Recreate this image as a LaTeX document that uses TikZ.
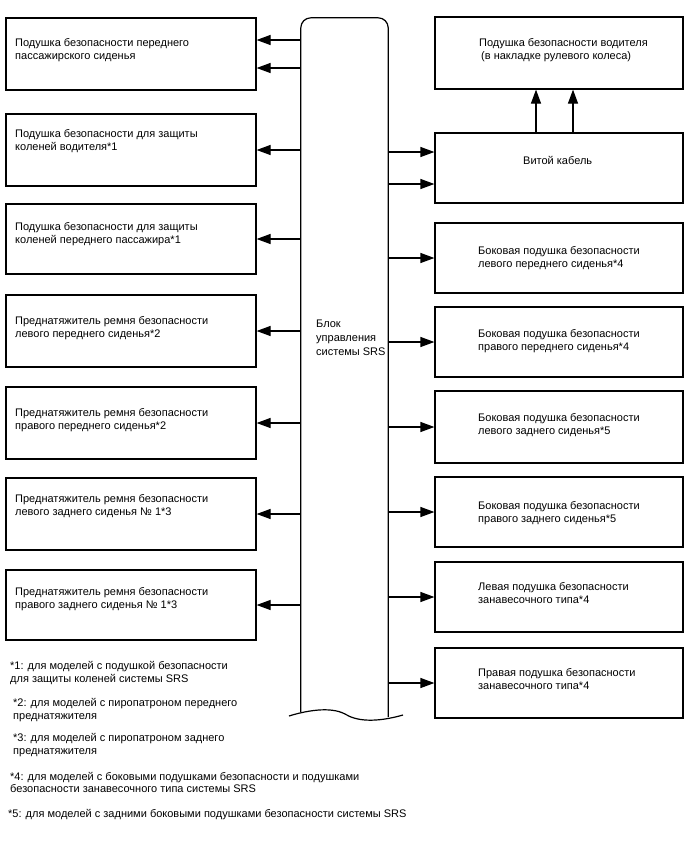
\documentclass[tikz,border=0pt]{standalone}
\usepackage{fontspec}
\setmainfont{Liberation Sans}
\usetikzlibrary{arrows.meta}
\begin{document}
\begin{tikzpicture}[x=1pt,y=-1pt,
  box/.style={draw, line width=1.2pt, inner sep=0, minimum width=250pt},
  rbox/.style={draw, line width=1.2pt, inner sep=0, minimum width=248pt},
  txt/.style={anchor=base west, align=left, inner sep=0, font=\fontsize{11}{13}\selectfont},
  arr/.style={line width=1.2pt, -{Triangle[length=14pt,width=10pt]}},
  ln/.style={line width=1.2pt}]
\useasboundingbox (0,0) rectangle (688,852);
% left boxes
\node[box, minimum height=72pt] (L1) at (131,54) {};
\node[box, minimum height=72pt] (L2) at (131,150) {};
\node[box, minimum height=70pt] (L3) at (131,239) {};
\node[box, minimum height=72pt] (L4) at (131,331) {};
\node[box, minimum height=72pt] (L5) at (131,423) {};
\node[box, minimum height=72pt] (L6) at (131,514) {};
\node[box, minimum height=70pt] (L7) at (131,605) {};
\node[txt] (L1t) at (15,59) {Подушка безопасности переднего\\пассажирского сиденья};
\node[txt] (L2t) at (15,150) {Подушка безопасности для защиты\\коленей водителя*1};
\node[txt] (L3t) at (15,243) {Подушка безопасности для защиты\\коленей переднего пассажира*1};
\node[txt] (L4t) at (15,337) {Преднатяжитель ремня безопасности\\левого переднего сиденья*2};
\node[txt] (L5t) at (15,429) {Преднатяжитель ремня безопасности\\правого переднего сиденья*2};
\node[txt] (L6t) at (15,515) {Преднатяжитель ремня безопасности\\левого заднего сиденья № 1*3};
\node[txt] (L7t) at (15,608) {Преднатяжитель ремня безопасности\\правого заднего сиденья № 1*3};
% right boxes
\node[rbox, minimum height=72pt] (R1) at (559,53) {};
\node[rbox, minimum height=70pt] (R2) at (559,168) {};
\node[rbox, minimum height=70pt] (R3) at (559,258) {};
\node[rbox, minimum height=70pt] (R4) at (559,342) {};
\node[rbox, minimum height=72pt] (R5) at (559,427) {};
\node[rbox, minimum height=70pt] (R6) at (559,512) {};
\node[rbox, minimum height=70pt] (R7) at (559,597) {};
\node[rbox, minimum height=70pt] (R8) at (559,683) {};
\node[txt] (R1t) at (479,59) {Подушка безопасности водителя\\\hspace{2pt}(в накладке рулевого колеса)};
\node[txt] (R2t) at (523,164) {Витой кабель};
\node[txt] (R3t) at (478,267) {Боковая подушка безопасности\\левого переднего сиденья*4};
\node[txt] (R4t) at (478,350) {Боковая подушка безопасности\\правого переднего сиденья*4};
\node[txt] (R5t) at (478,434) {Боковая подушка безопасности\\левого заднего сиденья*5};
\node[txt] (R6t) at (478,522) {Боковая подушка безопасности\\правого заднего сиденья*5};
\node[txt] (R7t) at (478,603) {Левая подушка безопасности\\занавесочного типа*4};
\node[txt] (R8t) at (478,689) {Правая подушка безопасности\\занавесочного типа*4};
% central block
\node[minimum width=87pt, minimum height=694pt, inner sep=0] (ecu) at (344.5,365) {};
\draw[ln, rounded corners=10pt] (ecu.south west) -- (ecu.north west) -- (ecu.north east) -- ([yshift=-5pt]ecu.south east);
\draw[ln] (289,716) .. controls (305,711) and (330,706) .. (345,714) .. controls (356,721) and (375,723) .. (403,715);
\node[txt, font=\fontsize{11}{14}\selectfont] (ecut) at (316,355) {Блок\\управления\\системы SRS};
% left arrows
\coordinate (a1) at ([yshift=14pt]L1.east);
\coordinate (a2) at ([yshift=-14pt]L1.east);
\draw[arr] (ecu.west |- a1) -- (a1);
\draw[arr] (ecu.west |- a2) -- (a2);
\foreach \n in {L2,L3,L4,L5,L6,L7} \draw[arr] (ecu.west |- \n.east) -- (\n.east);
% right arrows
\coordinate (b1) at ([yshift=16pt]R2.west);
\coordinate (b2) at ([yshift=-16pt]R2.west);
\draw[arr] (ecu.east |- b1) -- (b1);
\draw[arr] (ecu.east |- b2) -- (b2);
\foreach \n in {R3,R4,R5,R6,R7,R8} \draw[arr] (ecu.east |- \n.west) -- (\n.west);
% up arrows
\draw[arr] ([xshift=-23pt]R2.north) -- ([xshift=-23pt]R1.south);
\draw[arr] ([xshift=14pt]R2.north) -- ([xshift=14pt]R1.south);
% footnotes
\node[txt] (f1) at (10,682) {*1: для моделей с подушкой безопасности\\для защиты коленей системы SRS};
\node[txt] (f2) at (13,719) {*2: для моделей с пиропатроном переднего\\преднатяжителя};
\node[txt] (f3) at (13,754) {*3: для моделей с пиропатроном заднего\\преднатяжителя};
\node[txt, font=\fontsize{11}{12.5}\selectfont] (f4) at (10,792.5) {*4: для моделей с боковыми подушками безопасности и подушками\\безопасности занавесочного типа системы SRS};
\node[txt] (f5) at (8,817) {*5: для моделей с задними боковыми подушками безопасности системы SRS};
\end{tikzpicture}
\end{document}
